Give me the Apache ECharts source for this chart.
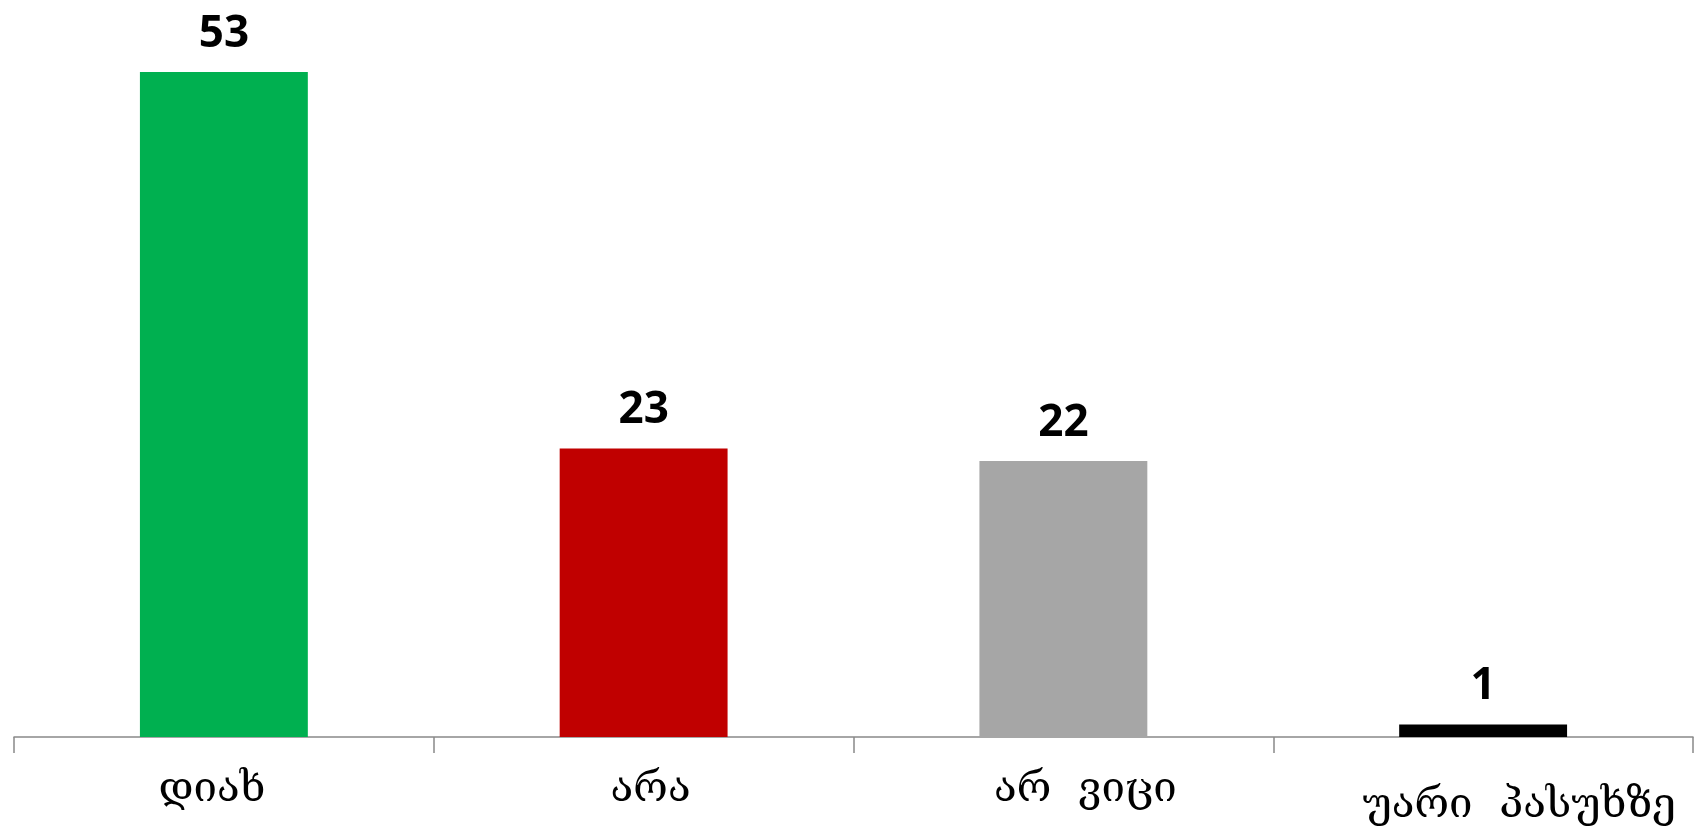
<!DOCTYPE html>
<html>
<head>
<meta charset="utf-8">
<script src="https://cdn.jsdelivr.net/npm/echarts@6/dist/echarts.min.js"></script>
<style>
html,body{margin:0;padding:0;background:#fff;}
#chart{width:1702px;height:838px;}
</style>
</head>
<body>
<div id="chart"></div>
<script>
const categories = ['დიახ', 'არა', 'არ  ვიცი', 'უარი  პასუხზე'];
const values = [53, 23, 22, 1];
const barColors = ['#00B050', '#C00000', '#A6A6A6', '#000000'];

const labelPads = [[0, 24, 0, 0], [0, 0, 0, 14], [0, 0, 0, 44], [16, 0, 0, 72]];

const chart = echarts.init(document.getElementById('chart'));
chart.setOption({
  animation: false,
  backgroundColor: '#ffffff',
  grid: { left: 14, right: 9, top: 47, bottom: 101, containLabel: false },
  xAxis: {
    type: 'category',
    data: categories.map((c, i) => ({ value: c, textStyle: { padding: labelPads[i] } })),
    axisLine: { lineStyle: { color: '#898989', width: 1.5 } },
    axisTick: { show: true, interval: 0, length: 16, lineStyle: { color: '#898989', width: 1.5 } },
    axisLabel: {
      interval: 0,
      hideOverlap: false,
      margin: 32,
      color: '#000000',
      fontFamily: 'DejaVu Serif',
      fontSize: 42
    }
  },
  yAxis: {
    type: 'value',
    min: 0,
    max: 55,
    show: false,
    splitLine: { show: false }
  },
  series: [{
    type: 'bar',
    barCategoryGap: '60%',
    data: values.map((v, i) => ({ value: v, itemStyle: { color: barColors[i] } })),
    label: {
      show: true,
      position: 'top',
      distance: 16,
      color: '#000000',
      fontFamily: 'Open Sans',
      fontWeight: 'bold',
      fontSize: 44
    }
  }]
});
</script>
</body>
</html>
